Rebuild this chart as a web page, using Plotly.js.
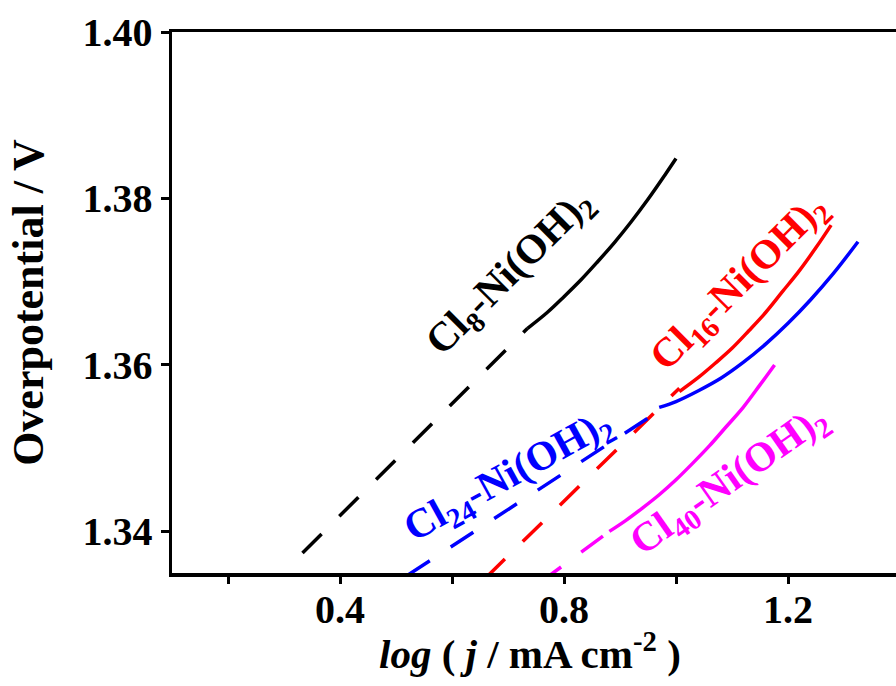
<!DOCTYPE html>
<html>
<head>
<meta charset="utf-8">
<script src="https://cdn.plot.ly/plotly-3.0.1.min.js"></script>
<style>
  html, body { margin: 0; padding: 0; background: #fff; overflow: hidden; }
  #chart { width: 920px; height: 686px; }
</style>
</head>
<body>
<div id="chart"></div>
<script>
// Tafel plots: measured curves (solid) and linear Tafel fits (dashed)
const cl8X = [0.735, 0.77, 0.80, 0.83, 0.86, 0.89, 0.92, 0.95, 0.98, 1.000];
const cl8Y = [1.3644, 1.3663, 1.3682, 1.3702, 1.3724, 1.3747, 1.3772, 1.3799, 1.3828, 1.3848];
const cl8FitX = [0.333, 0.735];
const cl8FitY = [1.3374, 1.3644];

const cl16X = [1.006, 1.04, 1.07, 1.10, 1.13, 1.16, 1.19, 1.22, 1.25, 1.277];
const cl16Y = [1.3568, 1.3585, 1.3602, 1.3620, 1.3641, 1.3663, 1.3688, 1.3713, 1.3741, 1.3768];
const cl16FitX = [0.660, 1.006];
const cl16FitY = [1.3344, 1.3572];

const cl24X = [0.970, 1.00, 1.04, 1.08, 1.12, 1.16, 1.20, 1.24, 1.28, 1.325];
const cl24Y = [1.3549, 1.3556, 1.3569, 1.3584, 1.3603, 1.3625, 1.3650, 1.3678, 1.3709, 1.3748];
const cl24FitX = [0.520, 0.970];
const cl24FitY = [1.3347, 1.3545];

const cl40X = [0.881, 0.91, 0.94, 0.97, 1.00, 1.03, 1.06, 1.09, 1.12, 1.15, 1.176];
const cl40Y = [1.3400, 1.3413, 1.3428, 1.3444, 1.3462, 1.3482, 1.3503, 1.3526, 1.3549, 1.3576, 1.3600];
const cl40FitX = [0.756, 0.881];
const cl40FitY = [1.3338, 1.3400];

const seriesNames = ['Cl8-Ni(OH)2', 'Cl16-Ni(OH)2', 'Cl24-Ni(OH)2', 'Cl40-Ni(OH)2'];
const seriesLabels = [
  'Cl<sub>8</sub>-Ni(OH)<sub>2</sub>',
  'Cl<sub>16</sub>-Ni(OH)<sub>2</sub>',
  'Cl<sub>24</sub>-Ni(OH)<sub>2</sub>',
  'Cl<sub>40</sub>-Ni(OH)<sub>2</sub>'
];
const seriesColors = ['#000000', '#ff0000', '#0000ff', '#ff00ff'];

// label anchor points (data coords) and rotation of each series label
const labelX = [0.705, 1.115, 0.701, 1.097];
const labelY = [1.3710, 1.3698, 1.3465, 1.3460];
const labelAngle = [-45, -45, -29, -35];

const xTickVals = [0.4, 0.8, 1.2];
const yTickVals = [1.34, 1.36, 1.38, 1.40];

const xTitle = '<i>log</i> ( <i>j</i> / mA cm<sup>-2</sup> )';
const yTitle = 'Overpotential / V';

const serif = '"Liberation Serif", "Times New Roman", Times, serif';

const solids = [[cl8X, cl8Y], [cl16X, cl16Y], [cl24X, cl24Y], [cl40X, cl40Y]];
const fits = [[cl8FitX, cl8FitY], [cl16FitX, cl16FitY], [cl24FitX, cl24FitY], [cl40FitX, cl40FitY]];

const traces = [];
for (let i = 0; i < 4; i++) {
  traces.push({
    x: fits[i][0], y: fits[i][1], mode: 'lines', name: seriesNames[i] + ' fit',
    line: { color: seriesColors[i], width: 3.5, dash: '27px,25px' },
    hoverinfo: 'skip'
  });
  traces.push({
    x: solids[i][0], y: solids[i][1], mode: 'lines', name: seriesNames[i],
    line: { color: seriesColors[i], width: 3.5, shape: 'spline', smoothing: 1 }
  });
}

const annotations = seriesLabels.map((t, i) => ({
  x: labelX[i], y: labelY[i], xref: 'x', yref: 'y',
  text: t, showarrow: false, textangle: labelAngle[i],
  xanchor: 'center', yanchor: 'middle',
  font: { family: serif, size: 41, color: seriesColors[i], weight: 'bold' }
}));

// x-axis title placed as a paper annotation under the tick labels
annotations.push({
  x: 0.492, y: -0.145, xref: 'paper', yref: 'paper',
  text: xTitle, showarrow: false,
  xanchor: 'center', yanchor: 'middle',
  font: { family: serif, size: 41, color: '#000', weight: 'bold' }
});

const layout = {
  width: 920, height: 686,
  margin: { l: 172, r: 20, t: 32, b: 113 },
  paper_bgcolor: '#ffffff', plot_bgcolor: '#ffffff',
  showlegend: false,
  xaxis: {
    range: [0.1, 1.4],
    tickvals: xTickVals,
    ticktext: xTickVals.map(v => v.toFixed(1)),
    ticks: 'outside', ticklen: 7, tickwidth: 3, tickcolor: '#000',
    ticklabelstandoff: -9,
    minor: { tickvals: [0.2, 0.6, 1.0, 1.4], ticks: 'outside', ticklen: 7, tickwidth: 3, tickcolor: '#000' },
    showline: true, linewidth: 3.5, linecolor: '#000', mirror: true,
    showgrid: false, zeroline: false,
    tickfont: { family: serif, size: 40, color: '#000', weight: 'bold' },
    automargin: false
  },
  yaxis: {
    range: [1.335, 1.40],
    tickvals: yTickVals,
    ticktext: yTickVals.map(v => v.toFixed(2)),
    ticks: 'outside', ticklen: 8, tickwidth: 3, tickcolor: '#000',
    showline: true, linewidth: 3.5, linecolor: '#000', mirror: true,
    showgrid: false, zeroline: false,
    tickfont: { family: serif, size: 40, color: '#000', weight: 'bold' },
    title: {
      text: yTitle,
      font: { family: serif, size: 44, color: '#000', weight: 'bold' },
      standoff: 26
    },
    automargin: false
  },
  annotations: annotations
};

Plotly.newPlot('chart', traces, layout, { displayModeBar: false, staticPlot: true });
</script>
</body>
</html>
